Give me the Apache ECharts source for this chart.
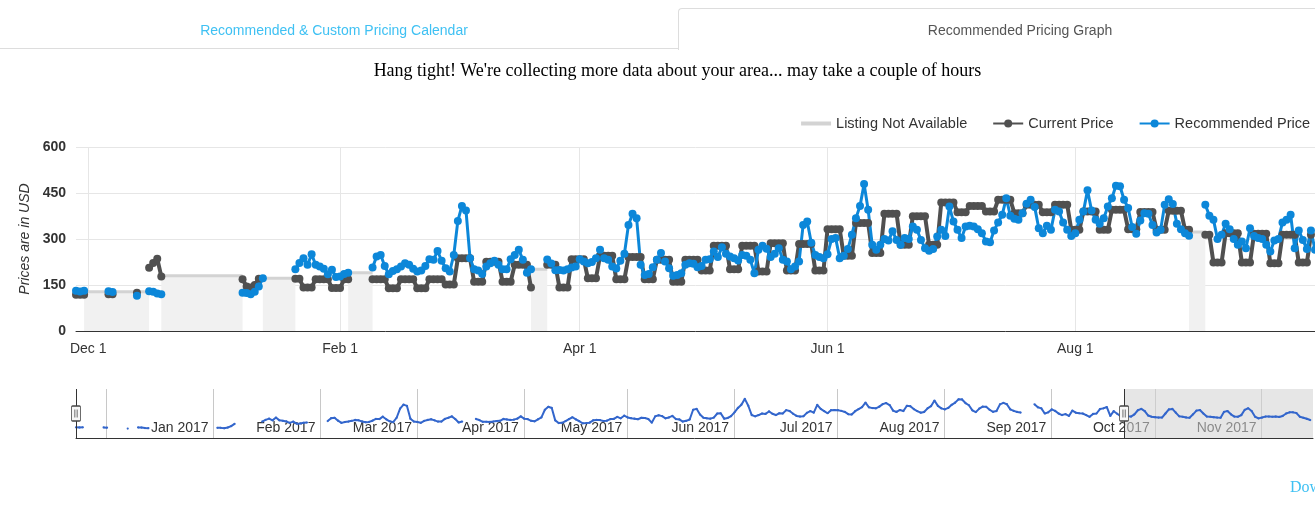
<!DOCTYPE html>
<html>
<head>
<meta charset="utf-8">
<script src="https://cdn.jsdelivr.net/npm/echarts@6/dist/echarts.min.js"></script>
<style>
html,body{margin:0;padding:0;width:1315px;height:532px;overflow:hidden;background:#fff;}
#chart{position:absolute;left:0;top:0;width:1315px;height:532px;}
.ov{position:absolute;pointer-events:none;white-space:nowrap;z-index:5;}
#tabline{left:0;top:48px;width:679px;height:0;border-bottom:1px solid #ddd;}
#tab1{left:0;top:8px;width:668px;height:41px;font:14px 'Liberation Sans',Arial,sans-serif;color:#3fc1f3;text-align:center;line-height:44px;}
#tab2{left:678px;top:8px;width:682px;height:41px;border-top:1px solid #ddd;border-left:1px solid #ddd;border-top-left-radius:4px;font:14px 'Liberation Sans',Arial,sans-serif;color:#555;text-align:center;line-height:42px;}
#subtitle{left:0;top:59px;width:1355px;text-align:center;font:18px 'Liberation Serif','Times New Roman',serif;line-height:22px;color:#000;}
#download{left:1290px;top:477px;font:16px 'Liberation Serif','Times New Roman',serif;line-height:20px;color:#3fc1f3;}
</style>
</head>
<body>
<div id="chart"></div>
<div class="ov" id="tabline"></div>
<div class="ov" id="tab1">Recommended &amp; Custom Pricing Calendar</div>
<div class="ov" id="tab2">Recommended Pricing Graph</div>
<div class="ov" id="subtitle">Hang tight! We're collecting more data about your area... may take a couple of hours</div>
<div class="ov" id="download">Download</div>
<script>
// ---------------- DATA ----------------
// daily values starting on this date (one entry per day)
const startDate = '2016-11-28';

const currentPrice = [
  118,118,118,null,null,null,null,
  null,120,120,null,null,null,null,
  null,125,null,null,206,222,236,
  178,null,null,null,null,null,null,
  null,null,null,null,null,null,null,
  null,null,null,null,null,null,169,
  145,142,150,170,null,null,null,
  null,null,null,null,null,170,170,
  142,142,142,169,169,169,169,
  140,140,140,169,169,null,null,
  null,null,null,169,169,169,169,
  139,139,139,169,169,169,169,
  139,139,139,169,169,169,169,
  152,152,152,237,237,237,237,
  161,161,161,226,226,226,226,
  161,161,161,216,216,216,216,
  142,null,null,null,216,216,216,
  142,142,142,234,234,234,234,
  172,172,172,245,245,245,245,
  169,169,169,241,241,241,241,
  169,169,169,232,232,232,232,
  161,161,161,232,232,232,232,
  197,197,197,278,278,278,278,
  201,201,201,278,278,278,278,
  194,194,194,286,286,286,286,
  197,197,197,284,284,284,284,
  197,197,197,332,332,332,332,
  245,245,245,352,352,352,352,
  254,254,254,382,382,382,382,
  281,281,281,374,374,374,374,
  281,281,281,419,419,419,419,
  387,387,387,408,408,408,408,
  390,390,390,428,428,428,428,
  384,384,384,412,412,412,412,
  387,387,387,412,412,412,412,
  330,330,330,390,390,390,390,
  330,330,330,395,395,395,395,
  332,332,332,388,388,388,388,
  330,330,330,392,392,392,392,
  330,330,null,null,null,314,314,
  223,223,223,319,319,319,319,
  223,223,223,317,317,317,317,
  221,221,221,314,314,314,314,
  223,223,223,314
];

const recommendedPrice = [
  131,129,131,null,null,null,null,
  null,130,127,null,null,null,null,
  null,115,null,null,130,128,122,
  120,null,null,null,null,null,null,
  null,null,null,null,null,null,null,
  null,null,null,null,null,null,125,
  124,120,128,145,172,null,null,
  null,null,null,null,null,201,222,
  237,216,250,216,210,203,185,
  200,176,178,186,190,null,null,
  null,null,null,207,243,248,212,
  185,196,201,210,221,216,203,
  194,197,212,234,232,261,229,
  205,194,248,359,408,393,237,
  201,197,186,210,221,229,216,
  201,201,234,248,265,232,190,
  201,null,null,null,233,220,198,
  199,197,201,207,210,234,227,
  221,225,237,265,237,232,210,
  204,229,252,346,382,368,216,
  183,186,208,232,254,227,205,
  180,183,188,216,221,219,208,
  212,232,234,259,241,273,252,
  243,237,230,248,245,232,188,
  265,278,268,241,252,270,232,
  227,201,210,227,346,357,288,
  248,241,237,250,300,303,237,
  245,267,314,368,408,479,395,
  281,265,281,300,295,325,297,
  281,303,300,341,330,297,270,
  262,267,308,330,310,406,357,
  330,303,341,343,341,332,319,
  292,289,328,354,379,433,376,
  366,363,384,415,428,404,335,
  319,343,330,395,390,354,330,
  310,319,363,390,459,393,363,
  350,368,406,433,474,472,428,
  401,339,317,360,384,382,346,
  321,330,412,430,414,350,332,
  319,311,null,null,null,412,376,
  363,300,314,350,332,300,281,
  292,270,335,310,303,300,281,
  259,295,300,354,363,379,270,
  328,297,267,328,265,262,290,
  340,356,330,275,260,255,250,
  250,300,350,356,310,265,260,
  252,248,290,335,343,300,262,
  260,255,250,248,320,330,290,
  262,260,280,345,364,330,260,
  240,250,262,262,260,262,258,
  270,300,314,314,305,260,248,
  235,220
];

// periods when the listing was not available: [from, to, level]
const unavailableRanges = [
  ['2016-11-30', '2016-12-16', 128],
  ['2016-12-19', '2017-01-08', 180],
  ['2017-01-13', '2017-01-21', 172],
  ['2017-02-03', '2017-02-09', 190],
  ['2017-03-20', '2017-03-24', 201],
  ['2017-08-29', '2017-09-02', 323]
];

const xTickDates = ['2016-12-01', '2017-02-01', '2017-04-01', '2017-06-01', '2017-08-01'];
const navMonthDates = ['2016-12-01','2017-01-01','2017-02-01','2017-03-01','2017-04-01','2017-05-01',
  '2017-06-01','2017-07-01','2017-08-01','2017-09-01','2017-10-01','2017-11-01'];
const navLabelDates = navMonthDates.slice(1);
const mainRange = ['2016-11-28', '2017-09-29'];
const navSelection = ['2016-11-28', '2017-09-28'];
const yMin = 0, yMax = 600, yStep = 150;

// ---------------- BUILD ----------------
const MONTHS = ['Jan','Feb','Mar','Apr','May','Jun','Jul','Aug','Sep','Oct','Nov','Dec'];
const DAY = 86400000;
function toTs(s) { const p = s.split('-').map(Number); return new Date(p[0], p[1] - 1, p[2]).getTime(); }
const sp = startDate.split('-').map(Number);
function dayTs(i) { return new Date(sp[0], sp[1] - 1, sp[2] + i).getTime(); }

const currentData = currentPrice.map((v, i) => [dayTs(i), v]);
const recommendedData = recommendedPrice.map((v, i) => [dayTs(i), v]);
const unavailData = [];
unavailableRanges.forEach(r => {
  unavailData.push([toTs(r[0]), r[2]]);
  unavailData.push([toTs(r[1]), r[2]]);
  unavailData.push([toTs(r[1]) + DAY / 2, null]);
});

const mainMin = toTs(mainRange[0]), mainMax = toTs(mainRange[1]);
const navMin = dayTs(0);
const navMax = navMin + 358.8 * DAY;
const navLabelShift = 5.9 * DAY;
const selStart = toTs(navSelection[0]), selEnd = toTs(navSelection[1]);

const chart = echarts.init(document.getElementById('chart'), null, { renderer: 'canvas' });
const handlePath = 'path://M1.5,0.5H7.5A1,1,0,0,1,8.5,1.5V14.5A1,1,0,0,1,7.5,15.5H1.5A1,1,0,0,1,0.5,14.5V1.5A1,1,0,0,1,1.5,0.5ZM3.5,4V12M5.5,4V12';

const option = {
  animation: false,
  backgroundColor: '#fff',
  textStyle: { fontFamily: "'Liberation Sans', Arial, sans-serif" },
  legend: {
    right: 0, top: 111, itemWidth: 30, itemHeight: 10, itemGap: 25,
    textStyle: { fontSize: 14.5, color: '#333' },
    data: [
      { name: 'Listing Not Available', icon: 'path://M0,0H30V4H0Z' },
      'Current Price', 'Recommended Price'
    ]
  },
  grid: [
    { left: 76, right: 0, top: 147, bottom: 201 },
    { left: 76, top: 389, width: 1237, height: 49 }
  ],
  xAxis: [
    {
      type: 'value', gridIndex: 0, min: mainMin, max: mainMax, scale: true,
      axisLine: { lineStyle: { color: '#333', width: 1 } },
      axisTick: { show: false, customValues: xTickDates.map(toTs) },
      axisLabel: {
        customValues: xTickDates.map(toTs), fontSize: 14, color: '#333', margin: 11,
        formatter: v => { const d = new Date(v); return MONTHS[d.getMonth()] + ' ' + d.getDate(); }
      },
      splitLine: { show: true, lineStyle: { color: '#e6e6e6' } }
    },
    { type: 'value', gridIndex: 1, min: navMin, max: navMax, scale: true, show: false },
    {
      type: 'value', gridIndex: 1, position: 'bottom', scale: true,
      min: navMin - navLabelShift, max: navMax - navLabelShift,
      axisLine: { show: true, lineStyle: { color: '#333', width: 1 } },
      axisTick: { show: false, customValues: navMonthDates.map(toTs) },
      axisLabel: {
        customValues: navLabelDates.map(toTs), inside: true, align: 'right',
        padding: [0, 5, 0, 0], margin: 3, fontSize: 14, color: '#333',
        formatter: v => { const d = new Date(v); return MONTHS[d.getMonth()] + ' ' + d.getFullYear(); }
      },
      splitLine: { show: true, lineStyle: { color: '#c8c8c8' } }
    }
  ],
  yAxis: [
    {
      type: 'value', gridIndex: 0, min: yMin, max: yMax, interval: yStep,
      axisLine: { show: false }, axisTick: { show: false },
      axisLabel: { fontWeight: 'bold', fontSize: 14, color: '#333', margin: 10 },
      splitLine: { lineStyle: { color: '#e6e6e6' } },
      name: 'Prices are in USD', nameLocation: 'middle', nameGap: 40,
      nameTextStyle: { fontStyle: 'italic', fontSize: 14, color: '#333' }
    },
    { type: 'value', gridIndex: 1, min: yMin, max: yMax, show: false }
  ],
  series: [
    {
      name: 'Listing Not Available', type: 'line', xAxisIndex: 0, yAxisIndex: 0,
      data: unavailData, symbol: 'none', connectNulls: false, silent: true,
      lineStyle: { color: '#d3d3d3', width: 3 },
      itemStyle: { color: '#d3d3d3' },
      areaStyle: { color: '#f1f1f1', opacity: 1 }
    },
    {
      name: 'Current Price', type: 'line', xAxisIndex: 0, yAxisIndex: 0,
      data: currentData, symbol: 'circle', symbolSize: 8, showAllSymbol: true,
      connectNulls: false, silent: true,
      lineStyle: { color: '#505050', width: 4 },
      itemStyle: { color: '#505050' }
    },
    {
      name: 'Recommended Price', type: 'line', xAxisIndex: 0, yAxisIndex: 0,
      data: recommendedData, symbol: 'circle', symbolSize: 8, showAllSymbol: true,
      connectNulls: false, silent: true,
      lineStyle: { color: '#0c87d9', width: 3 },
      itemStyle: { color: '#0c87d9' }
    },
    {
      name: 'Navigator', type: 'line', xAxisIndex: 1, yAxisIndex: 1,
      data: recommendedData, symbol: 'circle', symbolSize: 2.2, showAllSymbol: true,
      connectNulls: false, silent: true,
      lineStyle: { color: '#3366cc', width: 2 },
      itemStyle: { color: '#3366cc' },
      markArea: {
        silent: true,
        itemStyle: { color: 'rgba(210,210,210,0.55)' },
        data: [[{ xAxis: selEnd }, { xAxis: navMax }]]
      },
      markLine: {
        silent: true, symbol: ['none', 'none'], label: { show: false },
        lineStyle: { color: '#333', width: 1, type: 'solid' },
        data: [{ xAxis: selStart }, { xAxis: selEnd }]
      },
      markPoint: {
        silent: true, symbol: handlePath, symbolSize: [9, 15], label: { show: false },
        itemStyle: { color: '#f7f7f7', borderColor: '#444', borderWidth: 1 },
        data: [{ coord: [selStart, (yMin + yMax) / 2] }, { coord: [selEnd, (yMin + yMax) / 2] }]
      }
    }
  ]
};
chart.setOption(option);
</script>
</body>
</html>
